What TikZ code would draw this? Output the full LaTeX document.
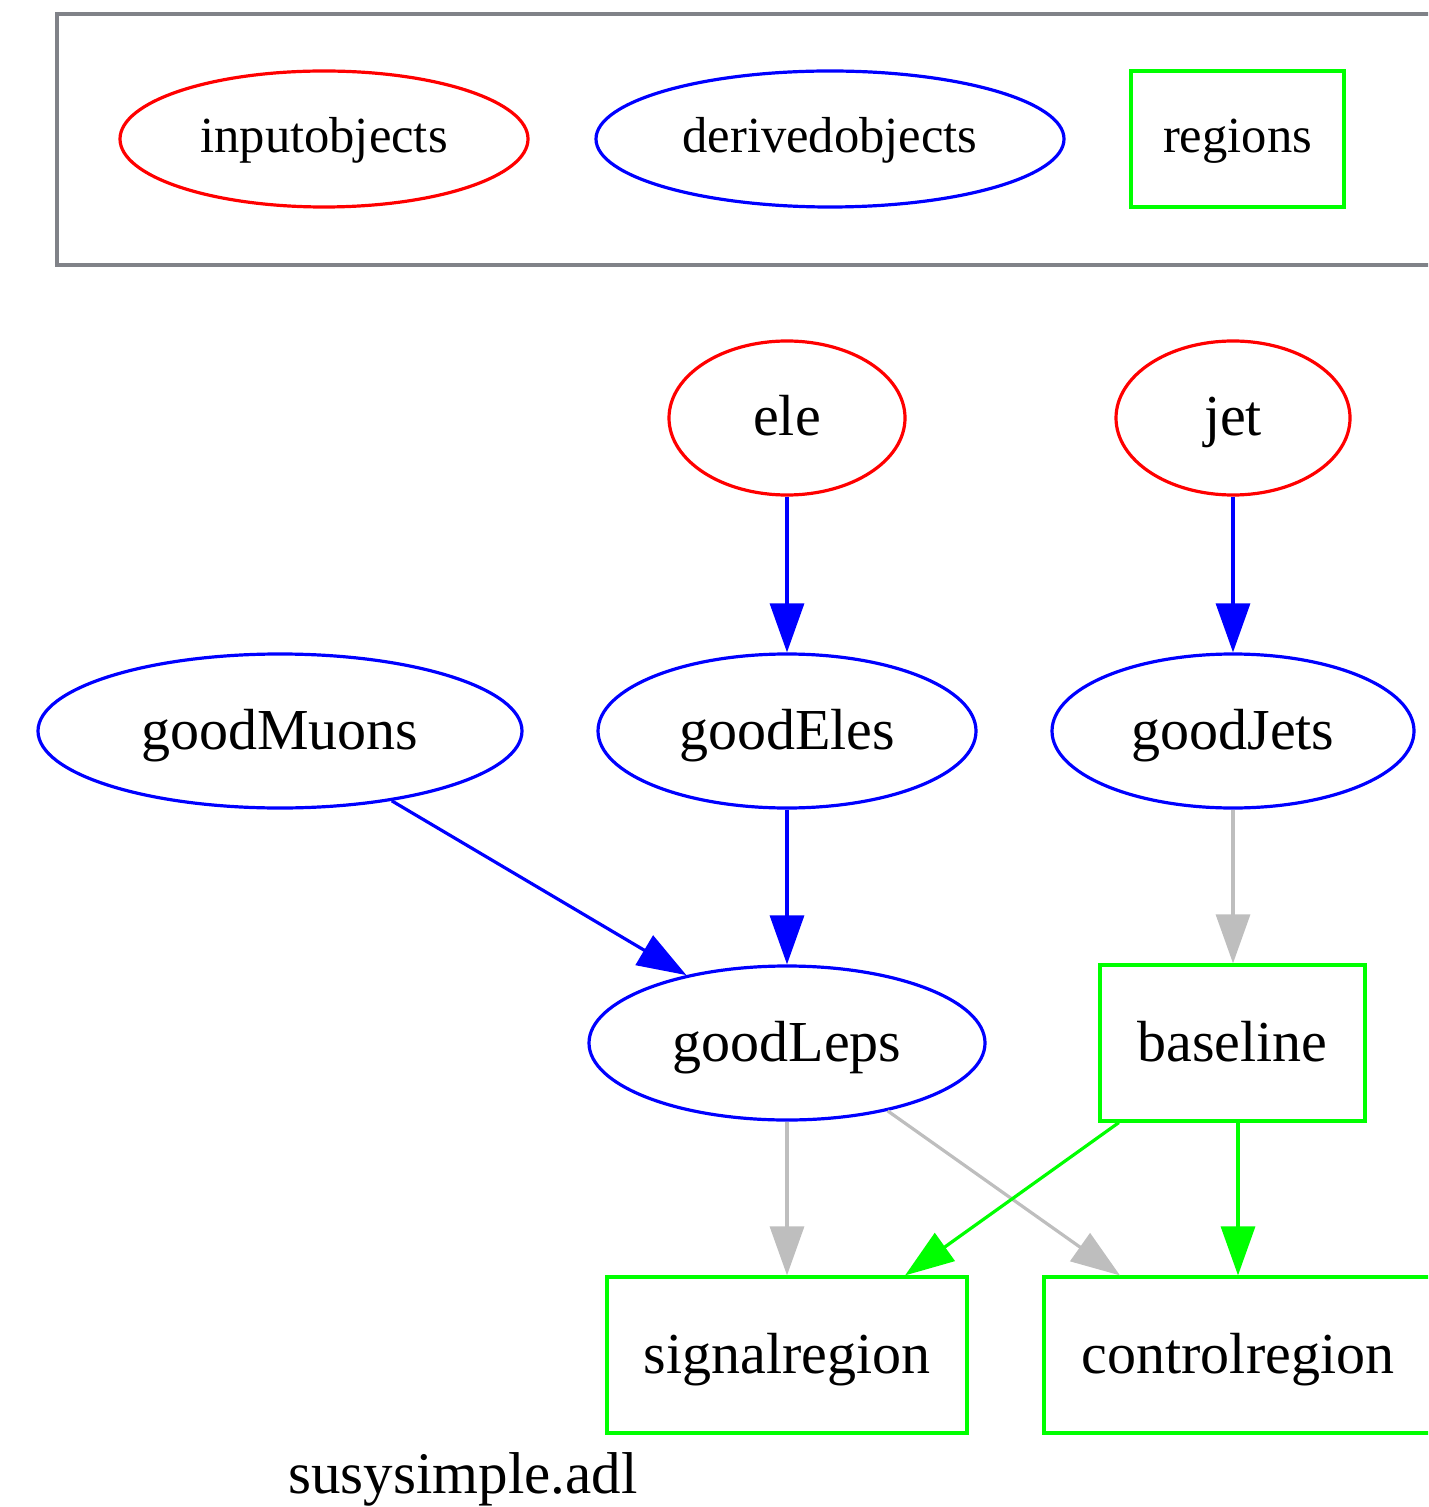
\documentclass[tikz,border=0pt]{standalone}
\usepackage{fontspec}
\setmainfont{Liberation Serif}
\usetikzlibrary{arrows.meta,shapes.geometric}
\definecolor{gvred}{RGB}{255,0,0}
\definecolor{gvblue}{RGB}{0,0,255}
\definecolor{gvgreen}{RGB}{0,255,0}
\definecolor{gvgray}{RGB}{190,190,190}
\definecolor{boxgray}{RGB}{128,130,136}
\tikzset{
  base/.style={line width=1.6pt, inner sep=0pt, font=\fontsize{29}{34}\selectfont, text height=24pt, text depth=6pt},
  inobj/.style={base, ellipse, draw=gvred},
  derobj/.style={base, ellipse, draw=gvblue},
  regbox/.style={base, rectangle, draw=gvgreen},
  leg/.style={font=\fontsize{25.3}{30}\selectfont, text height=20pt, text depth=6pt},
  conn/.style={line width=1.6pt, -{Triangle[length=24.5pt,width=17pt]}},
  bconn/.style={conn, draw=gvblue, fill=gvblue},
  gconn/.style={conn, draw=gvgray, fill=gvgray},
  grconn/.style={conn, draw=gvgreen, fill=gvgreen},
}
\begin{document}
\begin{tikzpicture}[x=0.5pt,y=-0.5pt]
\useasboundingbox (0,0) rectangle (1428,1507);
\clip (0,0) rectangle (1428,1507);
% legend
\node[draw=boxgray, line width=1.6pt, minimum width=691.5pt, minimum height=125.5pt, inner sep=0pt] (legend) at (748.5,139.5) {};
\node[inobj, leg, minimum width=204pt, minimum height=68pt] (linput) at (324,139) {inputobjects};
\node[derobj, leg, minimum width=234pt, minimum height=68pt] (lderived) at (830,139) {derivedobjects};
\node[regbox, leg, minimum width=106.5pt, minimum height=68pt] (lregions) at (1237.5,139) {regions};
% graph nodes
\node[inobj, minimum width=118pt, minimum height=77pt] (ele) at (787,418) {ele};
\node[inobj, minimum width=117pt, minimum height=77pt] (jet) at (1233,418) {jet};
\node[derobj, minimum width=242pt, minimum height=77pt] (goodMuons) at (280,731) {goodMuons};
\node[derobj, minimum width=189pt, minimum height=77pt] (goodEles) at (787,731) {goodEles};
\node[derobj, minimum width=181pt, minimum height=77pt] (goodJets) at (1233,731) {goodJets};
\node[derobj, minimum width=198pt, minimum height=77pt] (goodLeps) at (787,1043) {goodLeps};
\node[regbox, minimum width=132.5pt, minimum height=78pt] (baseline) at (1232.5,1043) {baseline};
\node[regbox, minimum width=180pt, minimum height=78pt] (signalregion) at (787,1355) {signalregion};
\node[regbox, minimum width=194pt, minimum height=78pt] (controlregion) at (1238,1355) {controlregion};
\node[font=\fontsize{29.5}{34}\selectfont, anchor=base, inner sep=0pt] (title) at (463,1493) {susysimple.adl};
% connectors
\draw[bconn] (ele) -- (goodEles);
\draw[bconn] (jet) -- (goodJets);
\draw[bconn] (goodMuons.-32) -- (goodLeps.146);
\draw[bconn] (goodEles) -- (goodLeps);
\draw[gconn] (goodJets) -- (goodJets |- baseline.north);
\draw[gconn] (goodLeps.south) -- (signalregion.north);
\draw[gconn] (goodLeps.-34.4) -- (controlregion.146);
\draw[grconn] (baseline.-145) -- (signalregion.34.6);
\draw[grconn] (baseline.south -| controlregion.north) -- (controlregion.north);
\end{tikzpicture}
\end{document}
